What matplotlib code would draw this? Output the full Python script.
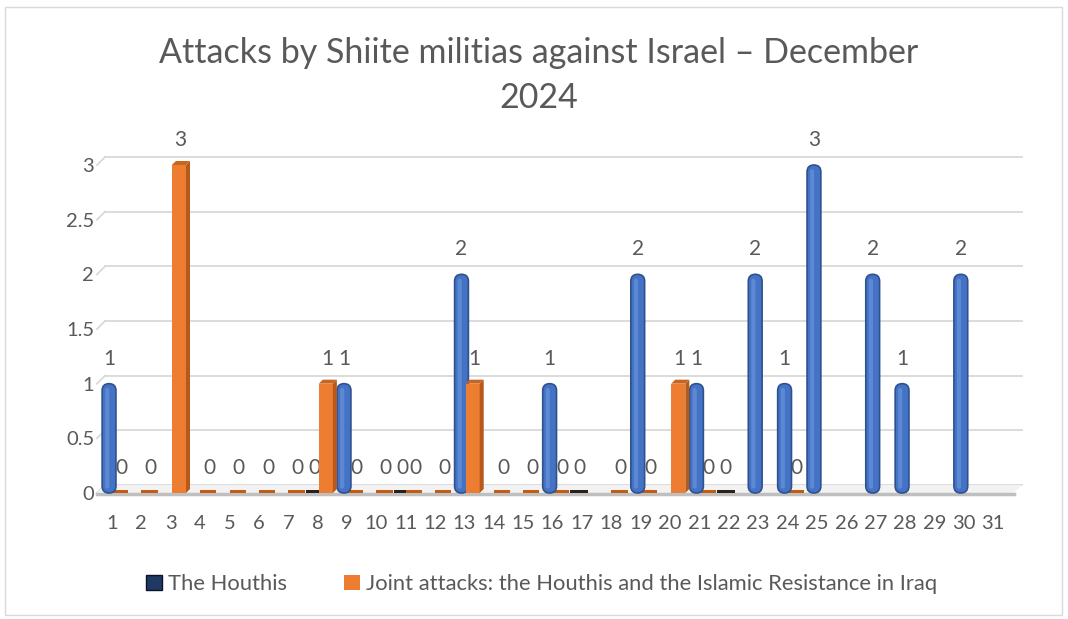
import numpy as np
import matplotlib
matplotlib.use("Agg")
import matplotlib.pyplot as plt
from matplotlib.patches import FancyBboxPatch, Rectangle, Polygon, Patch
from matplotlib.lines import Line2D
from matplotlib.transforms import IdentityTransform

# --- data (None = no value / no label) ---
days = list(range(1, 32))
houthis = [1, None, None, None, None, None, None, 0, 1, None,
           0, None, 2, None, None, 1, 0, None, 2, None,
           1, 0, 2, 1, 3, None, 2, 1, None, 2, None]
joint = [0, 0, 3, 0, 0, 0, 0, 1, 0, 0,
         0, 0, 1, 0, 0, 0, None, 0, 0, 1,
         0, None, None, 0, None, None, None, None, None, None, None]
y_ticks = [0, 0.5, 1, 1.5, 2, 2.5, 3]
y_tick_labels = ["0", "0.5", "1", "1.5", "2", "2.5", "3"]
title_lines = ["Attacks by Shiite militias against Israel \u2013 December", "2024"]
series_names = ["The Houthis",
                "Joint attacks: the Houthis and the Islamic Resistance in Iraq"]

BLUE = "#4472C4"
BLUE_EDGE = "#2F528F"
BLUE_HI = "#6F98E0"
ORANGE = "#ED7D31"
ORANGE_SIDE = "#B65A1C"
ORANGE_TOP = "#C8651F"
TEXT = "#595959"
GRID = "#D9D9D9"
DEPTH = 8  # px, fake 3d depth of the back wall

plt.rcParams["font.family"] = ["Lato", "DejaVu Sans"]

fig = plt.figure(figsize=(10.68, 6.19), dpi=100)
ax = fig.add_axes([97 / 1068, 1 - 493 / 619, 913 / 1068, 328 / 619])
ax.set_xlim(0.49, 31.575)
ax.set_ylim(0, 3)
for s in ax.spines.values():
    s.set_visible(False)
ax.set_xticks(days)
ax.set_xticklabels([str(d) for d in days])
ax.set_yticks(y_ticks)
ax.set_yticklabels(y_tick_labels)
ax.tick_params(axis="both", length=0, labelsize=14.5, labelcolor=TEXT)
ax.tick_params(axis="x", pad=16)
ax.tick_params(axis="y", pad=2)
ax.patch.set_alpha(0)

# pixel -> data unit conversions
x0, x1 = ax.get_xlim()
y0, y1 = ax.get_ylim()
bbox = ax.get_window_extent()
ux = (x1 - x0) / bbox.width
uy = (y1 - y0) / bbox.height
aspect = uy / ux

# back-wall gridlines with small diagonal at the left wall
for v in y_ticks:
    px, py = ax.transData.transform((x0, v))
    qx, qy = ax.transData.transform((x1, v))
    fig.add_artist(Line2D([px + DEPTH, qx + DEPTH + 4], [py + DEPTH, qy + DEPTH],
                          transform=IdentityTransform(), color=GRID, lw=1.3, zorder=0))
    fig.add_artist(Line2D([px, px + DEPTH], [py, py + DEPTH],
                          transform=IdentityTransform(), color=GRID, lw=1.3, zorder=0))

# floor
fl = ax.transData.transform((x0, 0))
fr = ax.transData.transform((x1, 0))
floor = Polygon([(fl[0], fl[1]), (fr[0] + 4, fr[1]), (fr[0] + DEPTH + 4, fr[1] + DEPTH),
                 (fl[0] + DEPTH, fl[1] + DEPTH)], closed=True, transform=IdentityTransform(),
                facecolor="#F2F2F2", edgecolor="none", zorder=0)
fig.add_artist(floor)
fig.add_artist(Line2D([fl[0], fr[0] + 4], [fl[1] - 1, fr[1] - 1], transform=IdentityTransform(),
                      color="#BFBFBF", lw=2.5, zorder=0))

# --- Houthis: rounded blue cylinders ---
hx = [d - 0.1 for d, v in zip(days, houthis) if v]
hv = [v for v in houthis if v]
bars = ax.bar(hx, hv, width=0.47, color=BLUE)
for r in bars:
    x, y, w, h = r.get_x(), r.get_y(), r.get_width(), r.get_height()
    r.remove()
    ax.add_patch(FancyBboxPatch((x, y), w, h, boxstyle=f"round,pad=0,rounding_size={w / 2}",
                                mutation_aspect=aspect, facecolor=BLUE, edgecolor=BLUE_EDGE,
                                lw=1.2, zorder=4, clip_on=False))
    ax.add_patch(FancyBboxPatch((x + w * 0.22, y + 0.04), w * 0.3, h - 0.08,
                                boxstyle=f"round,pad=0,rounding_size={w * 0.15}",
                                mutation_aspect=aspect, facecolor=BLUE_HI, edgecolor="none",
                                alpha=0.6, zorder=4, clip_on=False))

hz = [d - 0.1 for d, v in zip(days, houthis) if v == 0]
ax.bar(hz, [0.025] * len(hz), width=0.6, color="#2A211B", zorder=3)

# --- joint attacks: orange boxes with side and top faces ---
ow = 0.48
ox = [d + 0.28 for d, v in zip(days, joint) if v]
ov = [v for v in joint if v]
front = ax.bar(ox, ov, width=ow, color=ORANGE, zorder=4)
dx, dy = 4 * ux, 4 * uy
for r in front:
    xa, h = r.get_x(), r.get_height()
    xb = xa + r.get_width()
    ax.add_patch(Polygon([(xb, 0), (xb + dx, dy), (xb + dx, h + dy), (xb, h)],
                         facecolor=ORANGE_SIDE, edgecolor="none", zorder=4, clip_on=False))
    ax.add_patch(Polygon([(xa, h), (xb, h), (xb + dx, h + dy), (xa + dx, h + dy)],
                         facecolor=ORANGE_TOP, edgecolor="none", zorder=4, clip_on=False))

oz = [d + 0.28 for d, v in zip(days, joint) if v == 0]
ax.bar(oz, [0.025] * len(oz), width=0.55, color="#C55A11", zorder=3)

# --- data labels ---
for d, v in zip(days, houthis):
    if v is not None:
        ax.annotate(str(v), (d - 0.1, v), xytext=(0, 18), textcoords="offset points",
                    ha="center", va="center", fontsize=15, color=TEXT, zorder=2,
                    annotation_clip=False)
for d, v in zip(days, joint):
    if v is not None:
        ax.annotate(str(v), (d + 0.32, v), xytext=(0, 18), textcoords="offset points",
                    ha="center", va="center", fontsize=15, color=TEXT, zorder=2,
                    annotation_clip=False)

# title
fig.text(539 / 1068, 1 - 53 / 619, title_lines[0], ha="center", va="center",
         fontsize=24.5, color=TEXT)
fig.text(539 / 1068, 1 - 98 / 619, title_lines[1], ha="center", va="center",
         fontsize=24.5, color=TEXT)

# legend
handles = [Patch(facecolor="#1F3864", edgecolor="#0B1426"), Patch(facecolor=ORANGE)]
fig.legend(handles, series_names, loc="center", bbox_to_anchor=(542 / 1068, 1 - 584 / 619),
           ncol=2, frameon=False, fontsize=15.8, handlelength=0.7, handleheight=0.7,
           handletextpad=0.3, columnspacing=2.6, labelcolor=TEXT)

# chart border
fig.add_artist(Rectangle((5 / 1068, 4 / 619), 1057 / 1068, 608 / 619, transform=fig.transFigure,
                         fill=False, edgecolor="#D9D9D9", lw=1))

fig.savefig("out.png", dpi=100)
